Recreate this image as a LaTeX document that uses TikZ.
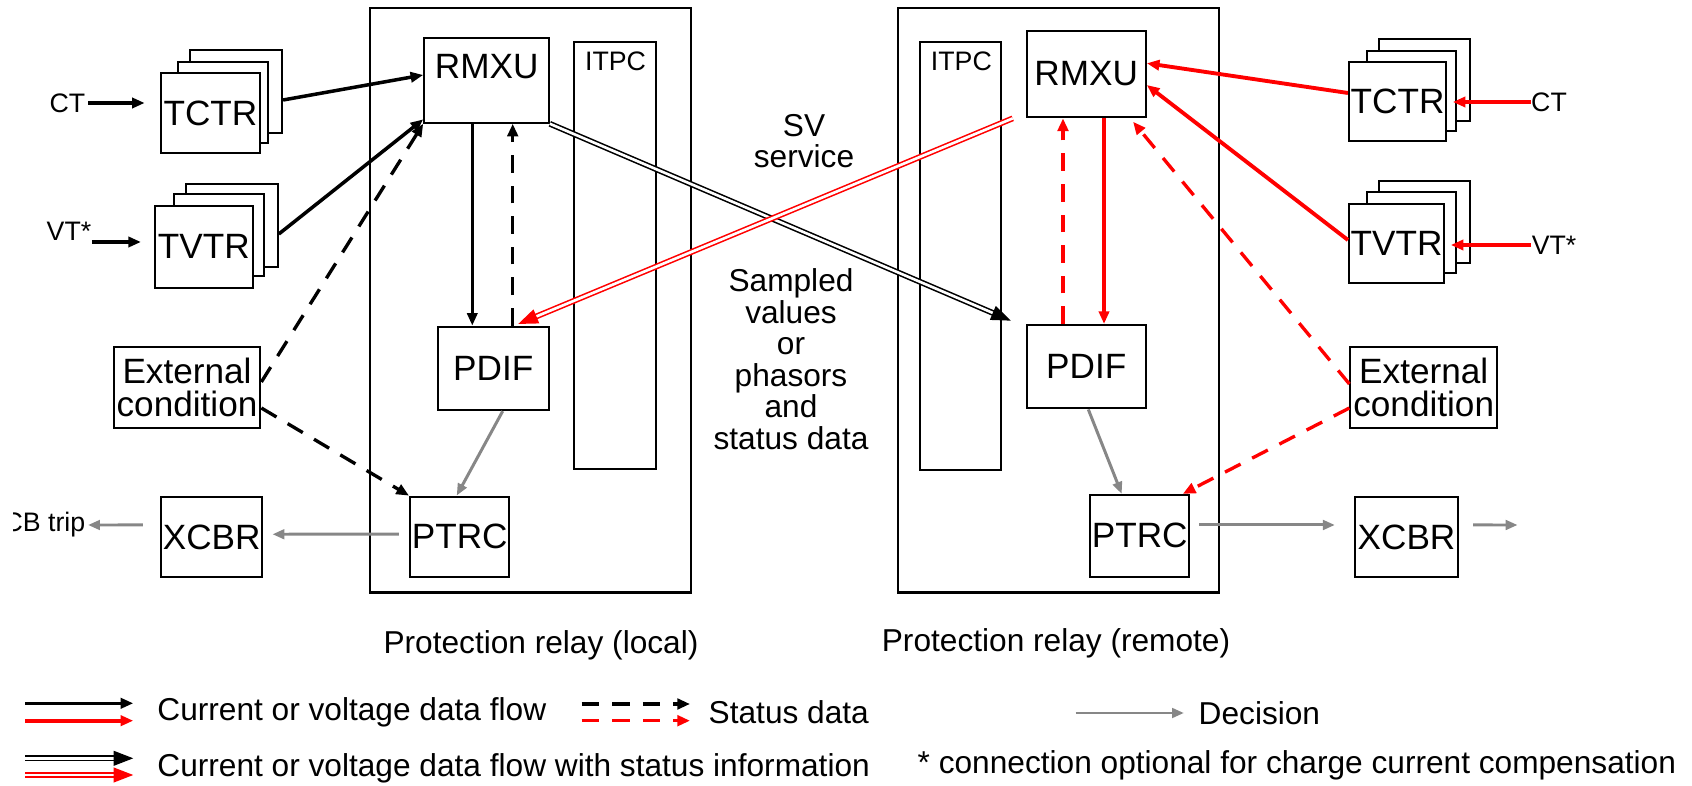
\documentclass[tikz,border=0pt]{standalone}
\usepackage{fontspec}
\setmainfont{Liberation Sans}
\usepackage{tikz}
\usetikzlibrary{positioning}
\usetikzlibrary{arrows.meta}

\definecolor{decgray}{RGB}{135,135,135}

\begin{document}
\begin{tikzpicture}[x=0.01cm, y=-0.01cm,
  box/.style={draw, line width=0.6pt, fill=white, inner sep=0pt, align=center, font=\fontsize{10}{9.5}\selectfont},
  frame/.style={draw, line width=0.6pt, inner sep=0pt},
  small/.style={inner sep=0pt, font=\fontsize{7.6}{8}\selectfont},
  txt/.style={inner sep=0pt, align=center, font=\fontsize{9}{8.96}\selectfont},
  flow/.style={line width=1pt, -{Triangle[length=3.6pt,width=2.9pt]}},
  redflow/.style={flow, red, line width=1.1pt},
  status/.style={line width=0.95pt, dash pattern=on 5pt off 3.7pt, -{Triangle[length=3.6pt,width=3pt]}},
  decision/.style={decgray, line width=0.85pt, -{Triangle[length=3.4pt,width=2.7pt]}},
  sv/.style={double, line width=0.45pt, double distance=0.75pt, -{Triangle[length=5.6pt,width=4.2pt]}}]
\useasboundingbox (0,0) rectangle (1692,786);

% Protection relay (local)
\node[frame, minimum width=3.21cm, minimum height=5.84cm] (lrelay) at (530.5,300.3) {};
\node[frame, minimum width=0.817cm, minimum height=4.27cm] (litpc) at (614.9,255.8) {};
\node[small] (litpctxt) at (615.5,61.7) {ITPC};
\node[box, minimum width=1.244cm, minimum height=0.844cm] (lrmxu) at (486.5,80.5) {};
\node[box, draw=none, fill=none] (lrmxutxt) at (486.7,67) {RMXU};
\node[box, minimum width=1.11cm, minimum height=0.833cm] (lpdif) at (493.2,368.4) {PDIF};
\node[box, minimum width=0.993cm, minimum height=0.8cm] (lptrc) at (459.7,536.7) {PTRC};

% local process side
\node[box, minimum width=0.92cm, minimum height=0.83cm] (ltctr3) at (236,91.5) {};
\node[box, minimum width=0.90cm, minimum height=0.81cm] (ltctr2) at (223,102.5) {};
\node[box, minimum width=0.993cm, minimum height=0.797cm] (ltctr1) at (210.4,113.2) {TCTR};
\node[box, minimum width=0.917cm, minimum height=0.827cm] (ltvtr3) at (231.9,225.4) {};
\node[box, minimum width=0.90cm, minimum height=0.82cm] (ltvtr2) at (219,235) {};
\node[box, minimum width=0.977cm, minimum height=0.823cm] (ltvtr1) at (203.9,246.9) {TVTR};
\node[box, minimum width=1.465cm, minimum height=0.816cm] (lext) at (187,387.5) {External\\condition};
\node[box, minimum width=1.013cm, minimum height=0.794cm] (lxcbr) at (211.7,537) {XCBR};
\node[small] (lct) at (67.5,103) {CT};
\node[small] (lvt) at (69,231) {VT*};
\begin{scope}
\clip (13,500) rectangle (150,550);
\node[small, anchor=east] (lcb) at (86,525) {CB trip};
\end{scope}

% Protection relay (remote)
\node[frame, minimum width=3.21cm, minimum height=5.84cm] (rrelay) at (1058.5,300.3) {};
\node[frame, minimum width=0.81cm, minimum height=4.277cm] (ritpc) at (960.5,256) {};
\node[small] (ritpctxt) at (961.4,61.7) {ITPC};
\node[box, minimum width=1.19cm, minimum height=0.866cm] (rrmxu) at (1086.2,74) {RMXU};
\node[box, minimum width=1.19cm, minimum height=0.833cm] (rpdif) at (1086.2,366.7) {PDIF};
\node[box, minimum width=0.993cm, minimum height=0.817cm] (rptrc) at (1139.7,535.8) {PTRC};

% remote process side
\node[box, minimum width=0.91cm, minimum height=0.82cm] (rtctr3) at (1424.5,80) {};
\node[box, minimum width=0.893cm, minimum height=0.80cm] (rtctr2) at (1411.4,90.7) {};
\node[box, minimum width=0.97cm, minimum height=0.787cm] (rtctr1) at (1397.5,101.4) {TCTR};
\node[box, minimum width=0.91cm, minimum height=0.823cm] (rtvtr3) at (1424.5,221.9) {};
\node[box, minimum width=0.893cm, minimum height=0.81cm] (rtvtr2) at (1411.4,232.5) {};
\node[box, minimum width=0.95cm, minimum height=0.79cm] (rtvtr1) at (1396.5,243.5) {TVTR};
\node[box, minimum width=1.465cm, minimum height=0.816cm] (rext) at (1423.7,387.5) {External\\condition};
\node[box, minimum width=1.03cm, minimum height=0.794cm] (rxcbr) at (1406.5,537) {XCBR};
\node[small] (rct) at (1549,102) {CT};
\node[small] (rvt) at (1554,245) {VT*};
\coordinate (rtrip) at (1517.6,525);

% texts between the relays
\node[txt] (svlabel) at (804,141) {SV\\service};
\node[txt] (sampled) at (791,359.3) {Sampled\\values\\or\\phasors\\and\\status data};
\node[txt] (lcap) at (541,645) {Protection relay (local)};
\node[txt] (rcap) at (1056,643) {Protection relay (remote)};

% local connections
\draw[flow, shorten <=0.02cm, shorten >=0.15cm] (lct.east) -- (lct.east -| ltctr1.west);
\draw[flow, shorten >=0.13cm] ([yshift=-0.11cm]lvt.east) -- ([yshift=-0.11cm]lvt.east -| ltvtr1.west);
\draw[flow] ([yshift=-0.085cm]ltctr3.east) -- ([yshift=0.055cm]lrmxu.west);
\draw[flow] ([yshift=-0.086cm]ltvtr3.east) -- ([yshift=0.044cm]lrmxu.south west);
\draw[status] ([yshift=0.055cm]lext.east) -- (lrmxu.south west);
\draw[status] ([yshift=-0.205cm]lext.east) -- (lptrc.north west);
\draw[flow] ([xshift=-0.142cm]lrmxu.south) -- ([xshift=-0.142cm]lrmxu.south |- lpdif.north);
\draw[status] ([xshift=0.262cm]lrmxu.south |- lpdif.north) -- ([xshift=0.262cm]lrmxu.south);
\draw[decision] ([xshift=0.095cm]lpdif.south) -- ([xshift=-0.03cm]lptrc.north);
\draw[decision, shorten <=0.1cm, shorten >=0.09cm] ([yshift=0.027cm]lptrc.west) -- ([yshift=0.027cm]lxcbr.east);
\draw[decision, shorten <=0.17cm, shorten >=0.02cm] ([yshift=0.12cm]lxcbr.west) -- (lcb.east);

% remote connections
\draw[redflow, shorten >=0.057cm] (rct.west) -- (rct.west -| rtctr1.east);
\draw[redflow, shorten >=0.057cm] (rvt.west) -- (rvt.west -| rtvtr1.east);
\draw[redflow] ([yshift=0.084cm]rtctr1.west) -- ([yshift=0.107cm]rrmxu.east);
\draw[redflow] ([yshift=0.035cm]rtvtr1.west) -- ([yshift=-0.11cm]rrmxu.east);
\draw[status, red] ([yshift=0.035cm]rext.west) -- ([xshift=-0.137cm,yshift=-0.034cm]rrmxu.south east);
\draw[status, red] ([yshift=-0.205cm]rext.west) -- ([xshift=-0.076cm]rptrc.north east);
\draw[status, red] ([xshift=-0.232cm]rrmxu.south |- rpdif.north) -- ([xshift=-0.232cm]rrmxu.south);
\draw[redflow, line width=0.9pt] ([xshift=0.178cm]rrmxu.south) -- ([xshift=0.178cm]rrmxu.south |- rpdif.north);
\draw[decision] ([xshift=0.021cm]rpdif.south) -- ([xshift=-0.18cm]rptrc.north);
\draw[decision, shorten <=0.09cm, shorten >=0.19cm] ([yshift=0.108cm]rptrc.east) -- ([yshift=0.12cm]rxcbr.west);
\draw[decision, shorten <=0.14cm] ([yshift=0.12cm]rxcbr.east) -- (rtrip);

% sampled values between the relays
\draw[sv] (lrmxu.south east) -- ([xshift=-0.147cm,yshift=0.033cm]rpdif.north west);
\draw[sv, red] ([xshift=-0.129cm]rrmxu.south west) -- ([xshift=0.25cm,yshift=0.017cm]lpdif.north);

% legend
\draw[flow] (25,703.3) -- (133.3,703.3);
\draw[redflow] (25,720.7) -- (133.3,720.7);
\node[txt, anchor=west] (kflow) at (156.7,712) {Current or voltage data flow};
\draw[status] (581.7,704) -- (690,704);
\draw[status, red] (581.7,720.7) -- (690,720.7);
\node[txt, anchor=west] (kstatus) at (708,712) {Status data};
\draw[decision] (1075.6,713) -- (1184,713);
\node[txt, anchor=west] (kdecision) at (1198,713) {Decision};
\draw[sv] (25,758.3) -- (133.3,758.3);
\draw[sv, red] (25,775) -- (133.3,775);
\node[txt, anchor=west] (ksv) at (156.7,768) {Current or voltage data flow with status information};
\node[txt, anchor=west] (knote) at (917,765) {* connection optional for charge current compensation};
\end{tikzpicture}
\end{document}
